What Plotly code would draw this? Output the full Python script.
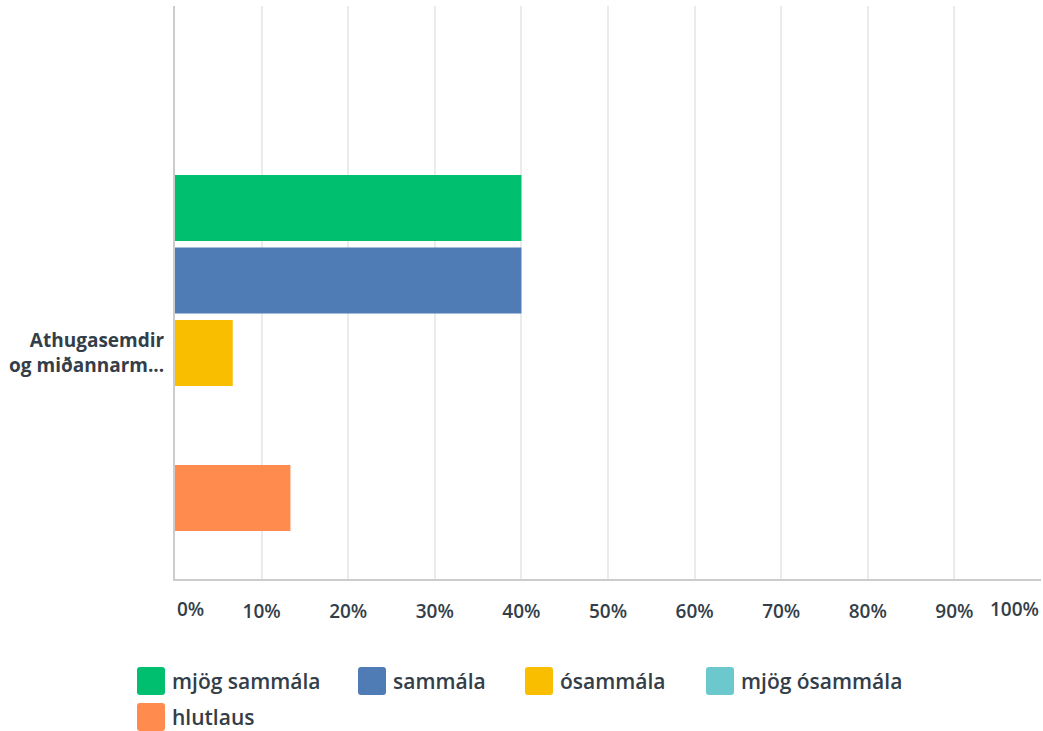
import plotly.graph_objects as go

categories = ["Athugasemdir<br>og miðannarm..."]
series_names = ["mjög sammála", "sammála", "ósammála", "mjög ósammála", "hlutlaus"]
series_values = [[40.0], [40.0], [6.67], [0.0], [13.33]]
series_colors = ["#00BF6F", "#507CB6", "#F9BE00", "#6BC8CD", "#FF8B4F"]
tick_vals = [0, 10, 20, 30, 40, 50, 60, 70, 80, 90, 100]
tick_text = ["0%", "10%", "20%", "30%", "40%", "50%", "60%", "70%", "80%", "90%", "100%"]

W, H = 1043, 731
L, R, T, B = 175, 2, 6, 152
TXT = "#333E48"
FONT = "Open Sans"

fig = go.Figure()
for name, vals, col in zip(series_names, series_values, series_colors):
    fig.add_trace(go.Bar(
        y=categories, x=vals, name=name, orientation="h",
        marker=dict(color=col, line=dict(width=0)), showlegend=False,
    ))

def py2paper(py):
    return (H - B - py) / (H - B - T)

def px2paper(px):
    return (px - L) / (W - L - R)

inner_vals = tick_vals[1:-1]
inner_text = tick_text[1:-1]

tickfont = dict(family=FONT, size=19, color=TXT, weight=600)
annotations = []
annotations.append(dict(x=tick_vals[0], xref="x", y=py2paper(609), yref="paper",
                        text=tick_text[0], showarrow=False, xanchor="left", yanchor="middle",
                        font=tickfont))
annotations.append(dict(x=tick_vals[-1], xref="x", y=py2paper(609), yref="paper",
                        text=tick_text[-1], showarrow=False, xanchor="right", yanchor="middle",
                        font=tickfont))

# manual legend
legend_pos = [(137, 681), (358, 681), (525, 681), (706, 681), (137, 717)]
shapes = []
for (lx, ly), name, col in zip(legend_pos, series_names, series_colors):
    x0, x1 = px2paper(lx), px2paper(lx + 28)
    y0, y1 = py2paper(ly + 14), py2paper(ly - 14)
    rx = 3 / (W - L - R)
    ry = 3 / (H - B - T)
    path = (f"M {x0+rx},{y0} L {x1-rx},{y0} Q {x1},{y0} {x1},{y0+ry} "
            f"L {x1},{y1-ry} Q {x1},{y1} {x1-rx},{y1} L {x0+rx},{y1} "
            f"Q {x0},{y1} {x0},{y1-ry} L {x0},{y0+ry} Q {x0},{y0} {x0+rx},{y0} Z")
    shapes.append(dict(type="path", path=path, xref="paper", yref="paper",
                       fillcolor=col, line=dict(width=0), layer="above"))
    annotations.append(dict(x=px2paper(lx + 33), y=py2paper(ly), xref="paper", yref="paper",
                            text=name, showarrow=False, xanchor="left", yanchor="middle",
                            font=dict(family=FONT, size=21, color=TXT, weight=600)))

fig.update_layout(
    width=W, height=H,
    margin=dict(l=L, r=R, t=T, b=B),
    paper_bgcolor="white", plot_bgcolor="white",
    barmode="group", bargap=0.0, bargroupgap=0.09,
    showlegend=False,
    xaxis=dict(range=[0, 100], tickvals=inner_vals, ticktext=inner_text,
               showgrid=True, gridcolor="#EBEBEB", gridwidth=2,
               zeroline=False, showline=True, linecolor="#CCCCCC", linewidth=2,
               ticks="", ticklabelstandoff=14, fixedrange=True,
               tickfont=tickfont),
    yaxis=dict(type="category", range=[0.6236, -0.9571],
               showgrid=False, zeroline=False, showline=True, linecolor="#CCCCCC", linewidth=2,
               ticks="", ticklabelstandoff=5, fixedrange=True,
               tickfont=dict(family=FONT, size=19, color=TXT, weight=700)),
    annotations=annotations,
    shapes=shapes,
)

fig.write_html("out.html", config={"displayModeBar": False},
               post_script="document.body.style.margin='0';")
